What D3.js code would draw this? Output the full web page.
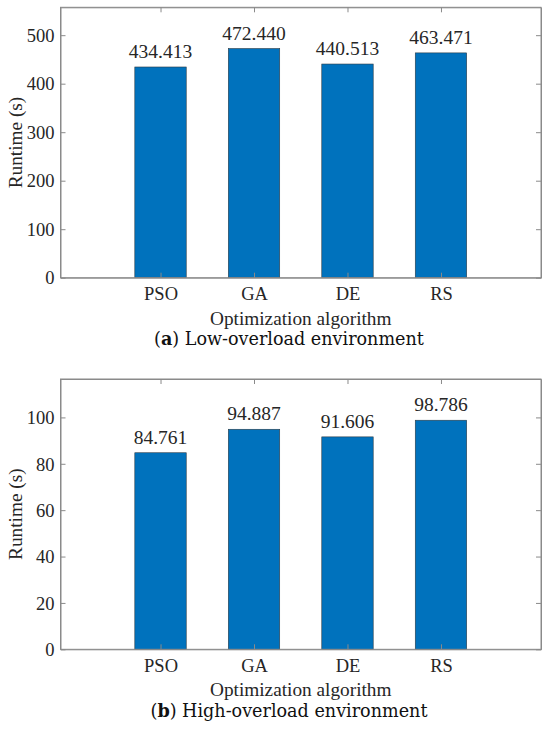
<!DOCTYPE html>
<html lang="en">
<head>
<meta charset="utf-8">
<title>Runtime by optimization algorithm</title>
<script src="https://cdn.jsdelivr.net/npm/d3@7/dist/d3.min.js"></script>
<style>
  body { margin: 0; background: #fff; }
  svg text { font-family: "Liberation Serif", "Times New Roman", serif; fill: #262626; }
  .caption { font-family: "DejaVu Serif", serif; fill: #111; }
</style>
</head>
<body>
<div id="chart"></div>
<script>
// data
var algorithms = ["PSO", "GA", "DE", "RS"];
var lowRuntime = [434.413, 472.440, 440.513, 463.471];
var highRuntime = [84.761, 94.887, 91.606, 98.786];
var lowTicks = [0, 100, 200, 300, 400, 500];
var highTicks = [0, 20, 40, 60, 80, 100];

var w = 550, h = 734;
var left = 60.5, right = 541;
var barBlue = "#0072BD", boxGray = "#8a8a8a";

var svg = d3.select("#chart").append("svg")
  .attr("width", w)
  .attr("height", h);

// category positions 1..4, like matlab's bar()
var x = d3.scaleLinear()
  .domain([-0.07, 5.07])
  .range([left, right]);

var fmt = d3.format(".3f");

function drawPanel(values, ticks, top, bottom, letter, captionText) {
  var g = svg.append("g");

  var y = d3.scaleLinear()
    .domain([0, d3.max(values) * 1.18])
    .range([bottom, top]);

  // bars
  var bw = x(1.275) - x(1);
  g.selectAll("rect.bar")
    .data(values)
    .enter().append("rect")
    .attr("class", "bar")
    .attr("x", function(d, i) { return x(i + 1) - bw; })
    .attr("width", bw * 2)
    .attr("y", function(d) { return y(d); })
    .attr("height", function(d) { return y(0) - y(d); })
    .attr("fill", barBlue)
    .attr("stroke", "#2b3a44")
    .attr("stroke-width", 0.6);

  // value labels
  g.selectAll("text.val")
    .data(values)
    .enter().append("text")
    .attr("class", "val")
    .attr("x", function(d, i) { return x(i + 1); })
    .attr("y", function(d) { return y(d) - 9; })
    .attr("text-anchor", "middle")
    .style("font-size", "19.5px")
    .text(function(d) { return fmt(d); });

  // axes, ticks inside, mirrored on top/right
  var xAx = d3.axisBottom(x).tickValues([1, 2, 3, 4])
    .tickFormat(function(d) { return algorithms[d - 1]; })
    .tickSizeInner(-5).tickSizeOuter(0).tickPadding(10);
  var xTop = d3.axisTop(x).tickValues([1, 2, 3, 4])
    .tickFormat("").tickSizeInner(-5).tickSizeOuter(0);
  var yAx = d3.axisLeft(y).tickValues(ticks)
    .tickSizeInner(-5).tickSizeOuter(0).tickPadding(6);
  var yRight = d3.axisRight(y).tickValues(ticks)
    .tickFormat("").tickSizeInner(-5).tickSizeOuter(0);

  var gx = g.append("g").attr("transform", "translate(0," + bottom + ")").call(xAx);
  var gxt = g.append("g").attr("transform", "translate(0," + top + ")").call(xTop);
  var gy = g.append("g").attr("transform", "translate(" + left + ",0)").call(yAx);
  var gyr = g.append("g").attr("transform", "translate(" + right + ",0)").call(yRight);

  [gx, gxt, gy, gyr].forEach(function(a) {
    a.selectAll("path, line").attr("stroke", boxGray).attr("stroke-width", 1);
    a.selectAll("text").attr("fill", "#262626").style("font-size", "18.5px")
      .style("font-family", "'Liberation Serif', serif");
  });
  gx.selectAll(".tick text").attr("dy", "0").attr("y", 22.8);
  gy.selectAll(".tick text").attr("dy", "0.34em");

  // box edges
  g.append("rect")
    .attr("x", left).attr("y", top)
    .attr("width", right - left).attr("height", bottom - top)
    .attr("fill", "none").attr("stroke", boxGray).attr("stroke-width", 1);

  // axis titles
  g.append("text")
    .attr("x", (left + right) / 2)
    .attr("y", bottom + 46.8)
    .attr("text-anchor", "middle")
    .style("font-size", "19.3px")
    .text("Optimization algorithm");

  g.append("text")
    .attr("transform", "translate(22," + (top + bottom) / 2 + ") rotate(-90)")
    .attr("text-anchor", "middle")
    .style("font-size", "19.3px")
    .text("Runtime (s)");

  // sub-caption
  var cap = g.append("text")
    .attr("class", "caption")
    .attr("x", 289)
    .attr("y", bottom + 67.3)
    .attr("text-anchor", "middle")
    .style("font-size", "17px");
  cap.append("tspan").text("(");
  cap.append("tspan").style("font-weight", "bold").text(letter);
  cap.append("tspan").text(") " + captionText);
  return cap;
}

var capA = drawPanel(lowRuntime, lowTicks, 7.3, 277.7, "a", "Low-overload environment");
var capB = drawPanel(highRuntime, highTicks, 379, 649.3, "b", "High-overload environment");

// caption font is a palatino look-alike, size it to the measured width
var fs = 17 * 270 / capA.node().getComputedTextLength();
capA.style("font-size", fs + "px");
capB.style("font-size", fs + "px");
</script>
</body>
</html>
